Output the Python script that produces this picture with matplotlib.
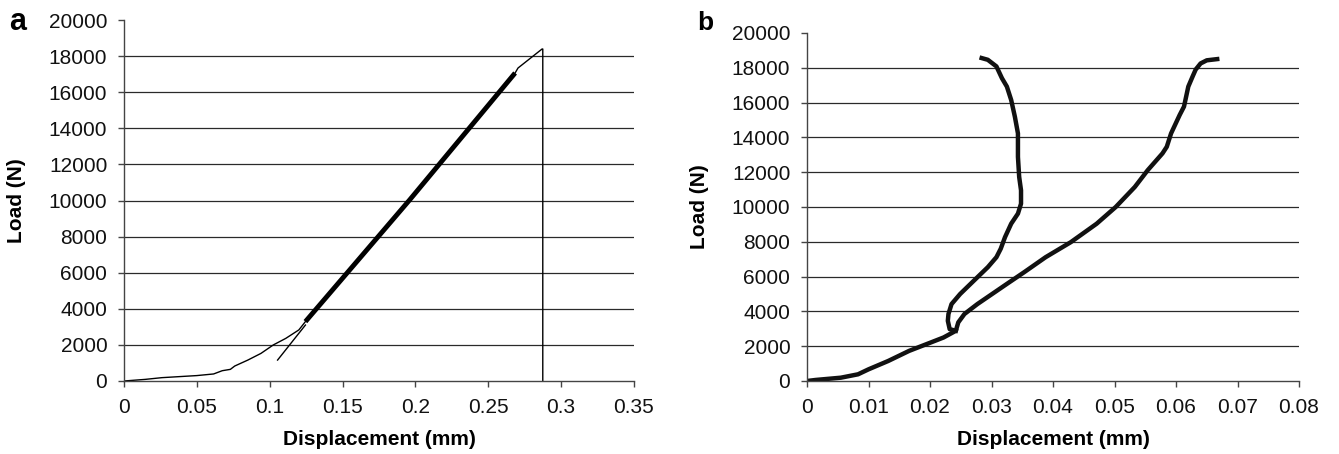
import numpy as np
import matplotlib
matplotlib.use("Agg")
import matplotlib.pyplot as plt

plt.rcParams['font.family'] = ['Liberation Sans', 'DejaVu Sans']

# panel a: thin lead-in, thick linear part, thin top + drop, tangent line
a_toe_x = [0, 0.0146, 0.026, 0.050, 0.0615, 0.0674, 0.073, 0.076, 0.085, 0.094, 0.1025, 0.111, 0.120, 0.1245]
a_toe_y = [0, 90, 185, 300, 390, 570, 645, 830, 1160, 1530, 2000, 2360, 2830, 3290]
a_lin_x = [0.1245, 0.196, 0.2684]
a_lin_y = [3290, 10030, 17064]
a_top_x = [0.2684, 0.2704, 0.2869, 0.2874, 0.2874]
a_top_y = [17064, 17340, 18393, 18393, 0]
a_tan_x = [0.1054, 0.1245]
a_tan_y = [1160, 3100]

# panel b: loading branch and the second branch
b_load_x = [0, 0.0014, 0.0055, 0.0083, 0.0100, 0.0132, 0.0166, 0.0201, 0.0222, 0.0242,
            0.0246, 0.0256, 0.0277, 0.0301, 0.0325, 0.0353, 0.0388, 0.0429, 0.0471,
            0.0502, 0.0533, 0.0554, 0.0578, 0.0585, 0.0592, 0.0606, 0.0613, 0.0620,
            0.0627, 0.0632, 0.0640, 0.0650, 0.0667]
b_load_y = [0, 60, 190, 385, 670, 1150, 1730, 2210, 2500, 2885,
            3370, 3850, 4420, 5000, 5580, 6250, 7115, 7980, 9040,
            10000, 11150, 12115, 13080, 13460, 14230, 15290, 15770, 16920,
            17500, 17900, 18250, 18430, 18500]
b_back_x = [0.0242, 0.0232, 0.0229, 0.0230, 0.0235, 0.0249, 0.0263, 0.0277, 0.0294,
            0.0308, 0.0315, 0.0322, 0.0332, 0.0343, 0.0348, 0.0348, 0.0345, 0.0343,
            0.0343, 0.0338, 0.0332, 0.0325, 0.0317, 0.0308, 0.0294, 0.0284]
b_back_y = [2885, 2980, 3460, 3850, 4420, 5000, 5480, 5960, 6540,
            7115, 7600, 8270, 9040, 9620, 10190, 10960, 11730, 12880,
            14230, 15190, 16150, 16920, 17400, 18080, 18460, 18560]

yticks = np.arange(0, 20001, 2000)
a_xticks = [0, 0.05, 0.1, 0.15, 0.2, 0.25, 0.3, 0.35]
a_xlabels = ["0", "0.05", "0.1", "0.15", "0.2", "0.25", "0.3", "0.35"]
b_xticks = [0, 0.01, 0.02, 0.03, 0.04, 0.05, 0.06, 0.07, 0.08]
b_xlabels = ["0", "0.01", "0.02", "0.03", "0.04", "0.05", "0.06", "0.07", "0.08"]

fig = plt.figure(figsize=(13.39, 4.54), dpi=100)
ax1 = fig.add_axes([124 / 1339, 1 - 381 / 454, 510 / 1339, 361 / 454])
ax2 = fig.add_axes([807 / 1339, 1 - 381 / 454, 492 / 1339, 348 / 454])


def style(ax, xticks, xlabels, xmax):
    ax.set_xlim(0, xmax)
    ax.set_ylim(0, 20000)
    ax.set_xticks(xticks)
    ax.set_xticklabels(xlabels)
    ax.set_yticks(yticks)
    for y in yticks[1:-1]:
        ax.axhline(y, color="#2a2a2a", lw=0.9, zorder=0)
    for s in ["top", "right"]:
        ax.spines[s].set_visible(False)
    for s in ["left", "bottom"]:
        ax.spines[s].set_color("#444444")
        ax.spines[s].set_linewidth(1.0)
    ax.tick_params(direction="out", length=4.5, width=1, color="#444444",
                   labelsize=15, labelcolor="#111111")
    ax.tick_params(axis="x", pad=8)
    ax.tick_params(axis="y", pad=7.5)
    ax.set_xlabel("Displacement (mm)", fontsize=15, fontweight="bold", labelpad=9)
    ax.set_ylabel("Load (N)", fontsize=15, fontweight="bold", labelpad=16)


style(ax1, a_xticks, a_xlabels, 0.35)
ax1.plot(a_toe_x, a_toe_y, color="black", lw=1.0)
ax1.plot(a_lin_x, a_lin_y, color="black", lw=3.5, solid_capstyle="butt")
ax1.plot(a_top_x, a_top_y, color="black", lw=1.0)
ax1.plot(a_tan_x, a_tan_y, color="black", lw=1.0)

style(ax2, b_xticks, b_xlabels, 0.08)
ax2.plot(b_load_x, b_load_y, color="#111111", lw=3.2)
ax2.plot(b_back_x, b_back_y, color="#111111", lw=3.2)

fig.text(9 / 1339, 1 - 30 / 454, "a", fontsize=22, fontweight="bold", va="baseline")
fig.text(697 / 1339, 1 - 30 / 454, "b", fontsize=19, fontweight="bold", va="baseline")

fig.savefig("out.png", dpi=100)
